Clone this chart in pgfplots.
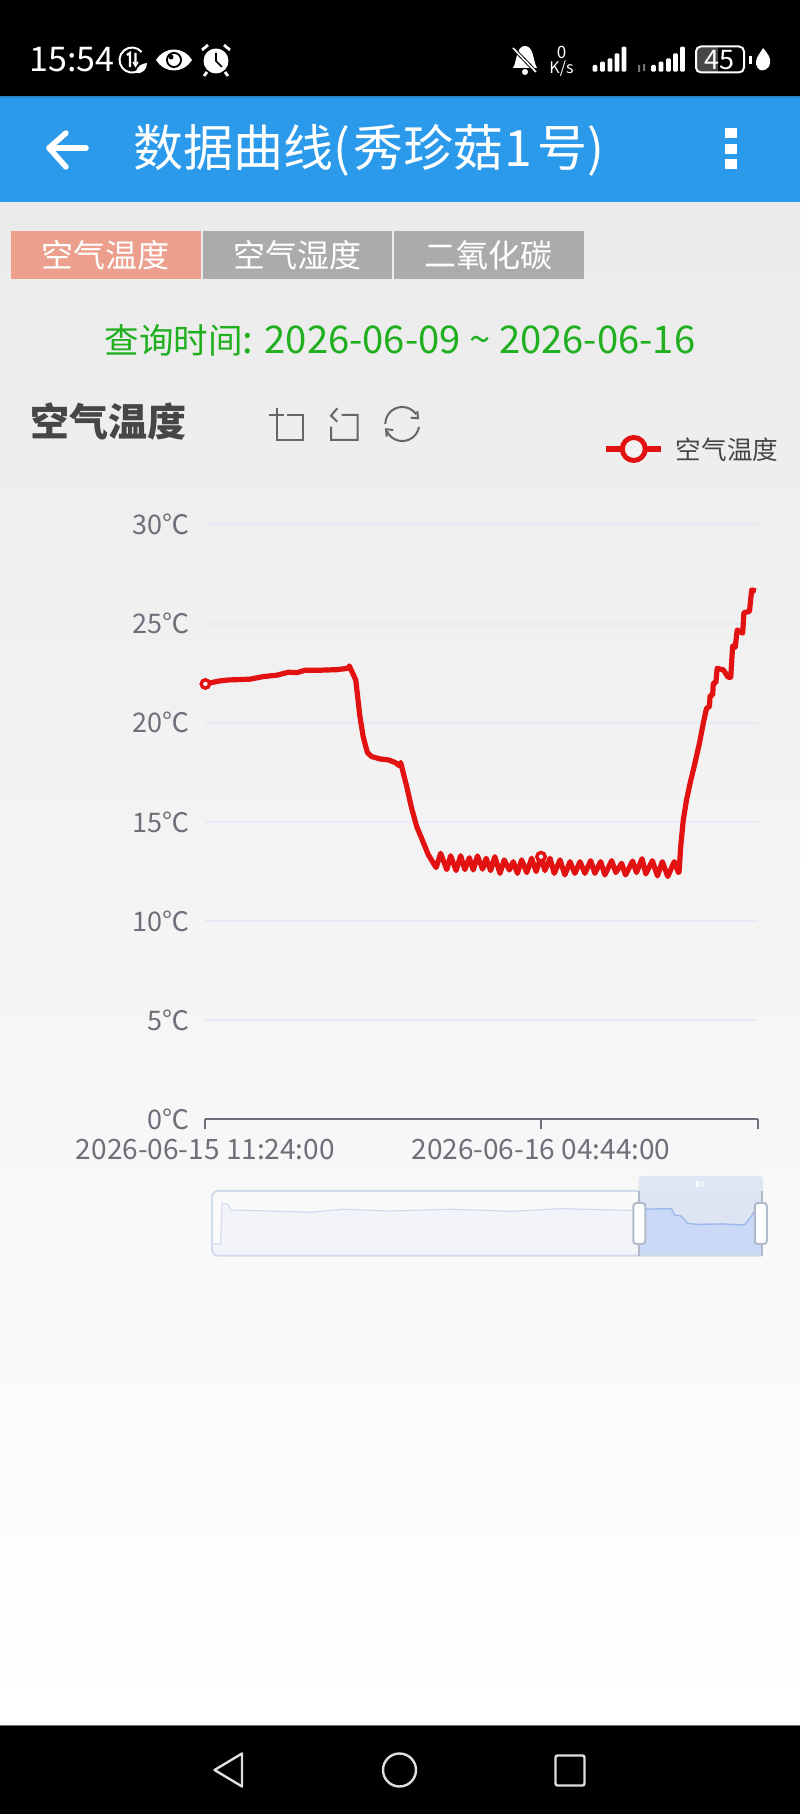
\documentclass[border=0pt]{standalone}
\usepackage{fontspec}
\setmainfont{Noto Sans CJK SC}
\usepackage{pgfplots}
\pgfplotsset{compat=1.18}
\definecolor{linered}{HTML}{E31212}
\definecolor{appblue}{HTML}{2C9AEA}
\definecolor{tabred}{HTML}{EC9F8C}
\definecolor{tabgrey}{HTML}{ABABAB}
\definecolor{querygreen}{HTML}{1FAF1F}
\definecolor{darktext}{HTML}{464646}
\definecolor{axisgrey}{HTML}{6E7079}
\definecolor{gridblue}{HTML}{E5EAF4}
\definecolor{iconbg}{HTML}{F2F2F2}
\definecolor{sliderline}{HTML}{D2DBEE}
\definecolor{selfill}{HTML}{C9D9F6}
\definecolor{selline}{HTML}{9DB8EC}
\definecolor{iconline}{HTML}{666666}
\newcommand{\fs}[1]{\fontsize{#1pt}{#1pt}\selectfont}
% air temperature, x in minutes after 2026-06-15 11:24
\pgfplotstableread{
x y
0 21.96
40 22.10
70 22.16
138 22.20
179 22.33
221 22.40
257 22.55
283 22.53
309 22.65
350 22.65
407 22.68
443 22.75
446 22.87
466 22.16
479 20.30
489 19.30
502 18.50
515 18.30
541 18.18
567 18.13
588 18.00
601 17.84
605 18.00
624 16.78
639 15.70
655 14.76
670 14.18
691 13.34
715 12.70
729 13.42
748 12.60
760 13.30
777 12.55
791 13.30
804 12.60
818 13.20
830 12.58
843 13.29
859 12.62
870 13.17
884 12.55
897 13.25
913 12.41
926 13.09
942 12.58
954 13.00
967 12.41
980 13.09
996 12.45
1011 13.17
1025 12.50
1040 13.25
1052 12.55
1068 13.17
1081 12.41
1099 13.09
1114 12.33
1130 13.00
1145 12.41
1161 13.00
1176 12.41
1194 13.05
1207 12.41
1225 13.00
1238 12.33
1259 13.05
1272 12.45
1290 12.92
1302 12.33
1324 13.03
1336 12.45
1353 13.15
1365 12.38
1385 13.05
1401 12.28
1416 13.00
1433 12.25
1453 13.00
1466 12.45
1468 12.50
1473 13.76
1481 15.10
1491 16.11
1502 16.95
1517 17.96
1531 18.97
1543 19.98
1553 20.73
1562 20.82
1564 21.36
1572 21.41
1574 22.00
1582 22.03
1586 22.75
1605 22.67
1620 22.30
1628 22.30
1634 23.88
1642 23.81
1648 24.68
1665 24.52
1669 25.56
1686 25.61
1693 26.70
1706 26.65
}\temptable
\begin{document}
\begin{tikzpicture}
\path[use as bounding box] (0,0) rectangle (800pt,1814pt);
\begin{scope}[x=1pt,y=-1pt,shift={(0,1814pt)}]
% page
\shade[top color=black!8,bottom color=white] (0,202) rectangle (800,1726);
\fill[black] (0,0) rectangle (800,97);
\fill[appblue] (0,96.5) rectangle (800,202.5);
\fill[appblue!85!black] (0,96.5) rectangle (800,98);
\fill[black] (0,1726) rectangle (800,1814);
\fill[black!55] (0,1725.5) rectangle (800,1726.5);
% status bar, left
\node[white,anchor=west,inner sep=0pt] at (29.5,60) {\fs{34}15:54};
\draw[white,line width=2pt] (141.6,52) arc (-40:-300:12.5);
\draw[white,line width=2.2pt] (127,55)--(130,53)--(130,67) (135.5,53)--(135.5,65);
\draw[white,line width=1.6pt] (133,62)--(135.5,66)--(138,62);
\fill[white] (136,73) .. controls (137,65) and (142,64) .. (147,63) .. controls (147,69) and (143,74) .. (136,73);
\fill[white] (156,60) .. controls (165,46) and (183,46) .. (192,60) .. controls (183,74) and (165,74) .. (156,60);
\fill[black] (174,60) circle (8);
\fill[white] (174,60) circle (6);
\fill[black] (171,57) circle (2.5);
\fill[white] (216,61) circle (12.5);
\draw[black,line width=1.6pt] (216,53)--(216,61)--(222,67);
\draw[white,line width=2.8pt] (202,50)--(208,45) (230,50)--(224,45) (207,72)--(204,76) (225,72)--(228,76);
% status bar, right
\fill[white] (513,68) .. controls (517,62) and (516,46) .. (525,46) .. controls (534,46) and (533,62) .. (537,68) -- cycle;
\fill[white] (525,72) circle (3);
\draw[black,line width=3.5pt] (512,47)--(537,73);
\draw[white,line width=1.6pt] (513,48)--(536,72);
\node[white,inner sep=0pt] at (561.5,52) {\fs{17}0};
\node[white,inner sep=0pt] at (561.5,69) {\fs{16}K/s};
\foreach \xa/\ya in {595/65,602.5/61.7,610/58.3,617/53.3,624/46.7,653.5/65,661/61.7,668.5/58.3,675.5/53.3,682.5/46.7}
  \fill[white,rounded corners=1.2pt] (\xa-2.4,\ya) rectangle (\xa+2.4,71.7);
\fill[black!55] (638,65) rectangle (640,72) (643,64) rectangle (645,71);
\fill[black!72] (697,47) rectangle (718,72);
\draw[white,line width=2pt,rounded corners=5pt] (696,46.5) rectangle (744,72.5);
\node[white,inner sep=0pt] at (719,60) {\fs{27}45};
\fill[white] (749,56) rectangle (751.5,64);
\fill[white] (763,48) .. controls (768,54) and (771,58) .. (770,63) .. controls (769,70) and (763,71) .. (760,70) .. controls (756,68) and (755,62) .. (757,58) .. controls (758,55) and (761,52) .. (763,48);
% app bar
\draw[white,line width=5.5pt,line cap=round] (49,148)--(86,148);
\draw[white,line width=5.5pt,line cap=round,line join=round] (66,133)--(49,148)--(66,167);
\node[white,anchor=west,inner sep=0pt] at (133,150) {\fs{50}数据曲线(\kern3pt 秀珍菇\kern1.5pt 1\kern5pt 号)};
\foreach \ya in {133,149,164}
  \fill[white] (725,\ya-5) rectangle (737,\ya+5);
% tabs
\fill[tabred] (11,231) rectangle (200.5,278.7);
\fill[tabgrey] (202.5,231) rectangle (392,278.7);
\fill[tabgrey] (394,231) rectangle (583.7,278.7);
\node[white,inner sep=0pt] at (105.8,255) {\fs{32}空气温度};
\node[white,inner sep=0pt] at (297.2,255) {\fs{32}空气湿度};
\node[white,inner sep=0pt] at (488.8,255) {\fs{32}二氧化碳};
\node[querygreen,inner sep=0pt] at (400,340.5) {\fs{34.5}查询时间\fs{38.2}: 2026-06-09 \textasciitilde{} 2026-06-16};
% chart title and toolbox
\node[darktext,anchor=west,inner sep=0pt] at (30,421.5) {\fs{39}\bfseries 空气温度};
\draw[iconline,line width=2pt] (269.3,415)--(284,415) (287.3,415)--(302.7,415)--(302.7,440)--(276.7,440)--(276.7,408.3);
\draw[iconline,line width=2pt] (337.3,408.3)--(331,415.7)--(337.3,421.7) (341.7,415)--(357.7,415)--(357.7,440)--(331,440)--(331,426.7);
\draw[iconline,line width=2pt] (385.3,424) arc (180:325:17);
\draw[iconline,line width=2pt] (419,427) arc (10:155:17);
\draw[iconline,line width=2pt] (417.3,411)--(418,418.3)--(410.7,417.7);
\draw[iconline,line width=2pt] (386.7,436.7)--(386,429.3)--(393.3,430);
% slider frame, under its series
\fill[black!2,rounded corners=6pt] (212,1191) rectangle (640,1255.7);
\fill[sliderline!70,rounded corners=3pt] (638.6,1176) rectangle (763,1196);
\fill[sliderline!75] (638.6,1191) rectangle (761.7,1255.7);
\end{scope}

\begin{axis}[
  at={(205.4pt,694.5pt)},anchor=south west,
  scale only axis,width=552.1pt,height=595pt,
  xmin=0,xmax=1711,ymin=0,ymax=30,
  clip=false,
  axis x line=bottom,axis y line=left,
  axis line style={-,draw=axisgrey,line width=2pt},
  y axis line style={draw=none},
  ytick={0,5,10,15,20,25,30},
  yticklabels={0℃,5℃,10℃,15℃,20℃,25℃,30℃},
  xtick={0,1040,1711},
  xticklabels={2026-06-15 11:24:00,2026-06-16 04:44:00,},
  xtick align=outside,
  major tick length=10pt,
  x tick style={draw=axisgrey,line width=2pt},
  y tick style={draw=none},
  ymajorgrids,
  grid style={gridblue,line width=2pt},
  yticklabel style={text=axisgrey,font=\fs{27},xshift=-7.5pt},
  xticklabel style={text=axisgrey,font=\fs{28},yshift=-6pt},
  legend style={at={(0.7211,1.1269)},anchor=west,draw=none,fill=none,
    inner sep=0pt,font=\fs{25.6},text=darktext},
  legend image code/.code={
    \draw[line width=5.5pt,color=linered] (0,0)--(54.7pt,0);
    \draw[line width=5pt,color=linered,fill=iconbg] (27.3pt,0) circle (11.5pt);
  },
]
\addplot[color=linered,line width=5.2pt,line join=round] table {\temptable};
\addlegendentry{\hspace{10pt}空气温度}
\addplot[forget plot,only marks,mark=*,mark size=4.2pt,
  mark options={draw=linered,fill=iconbg,line width=3.4pt}]
  coordinates {(0,21.96)(1040,13.25)};
\end{axis}

% data zoom overview, y axis runs down to the bottom of the frame
\begin{axis}[
  at={(212pt,570pt)},anchor=south west,
  scale only axis,width=549.7pt,height=40.7pt,
  xmin=0,xmax=7,ymin=0,ymax=28,
  hide axis,clip=false,
]
\addplot[draw=none,fill=sliderline!30] coordinates {
(0.02,-8)(0.02,0)(0.11,0)(0.13,28)(0.20,27.5)(0.24,23.4)(1.19,22)(1.25,21.8)(1.67,23.9)
(2.27,22.7)(3.05,23.9)(3.83,22.5)(4.44,24.3)(5.43,23)(5.43,-8)} -- cycle;
\addplot[draw=none,fill=selfill] coordinates {
(5.43,-8)(5.43,23.9)(5.85,24.3)(5.89,20)(5.97,19.3)(6.06,14.2)(6.18,13.5)(6.48,13.8)
(6.78,13.1)(6.85,17.7)(6.96,26.9)(7,28)(7,-8)} -- cycle;
\addplot[color=sliderline,line width=1.2pt] coordinates {
(0.02,0)(0.11,0)(0.13,28)(0.20,27.5)(0.24,23.4)(1.19,22)(1.25,21.8)(1.67,23.9)
(2.27,22.7)(3.05,23.9)(3.83,22.5)(4.44,24.3)(5.43,23)};
\addplot[color=selline,line width=1.4pt] coordinates {
(5.43,23.9)(5.85,24.3)(5.89,20)(5.97,19.3)(6.06,14.2)(6.18,13.5)(6.48,13.8)
(6.78,13.1)(6.85,17.7)(6.96,26.9)(7,28)};
\end{axis}

\begin{scope}[x=1pt,y=-1pt,shift={(0,1814pt)}]
\draw[sliderline,line width=2pt,rounded corners=6pt] (638.6,1191)--(212,1191)--(212,1255.7)--(761.7,1255.7);
\draw[sliderline!85!black,line width=1.8pt] (638.6,1191)--(638.6,1255.7) (761.7,1191)--(761.7,1255.7);
\foreach \xa in {697,699.7,702.4}
  \draw[white,line width=1.3pt] (\xa,1181)--(\xa,1187);
\foreach \xa in {639.3,760.8}
  \draw[sliderline!85!black,fill=white,line width=2pt,rounded corners=3pt] (\xa-6,1203) rectangle (\xa+6,1244);
% navigation bar
\draw[black!13,line width=2.4pt,line join=round] (214.5,1770)--(242,1753.5)--(242,1786.5)--cycle;
\draw[black!13,line width=2.4pt] (399.5,1770) circle (16.5);
\draw[black!13,line width=2.4pt,rounded corners=2pt] (555.5,1755.5) rectangle (584.5,1785.5);
\end{scope}
\end{tikzpicture}
\end{document}
